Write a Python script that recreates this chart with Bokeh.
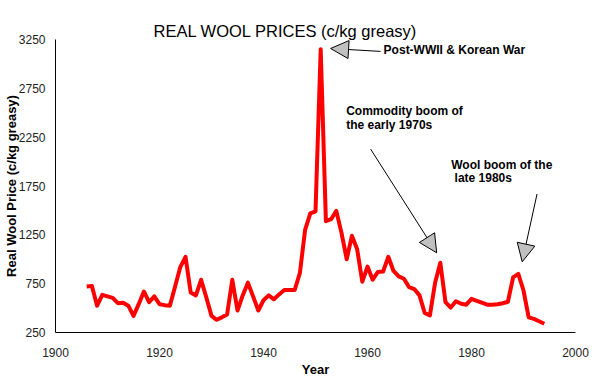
from bokeh.plotting import figure
from bokeh.models import Arrow, NormalHead, Label, FixedTicker, Title
from bokeh.embed import file_html
from bokeh.resources import INLINE

years = list(range(1906, 1995))
prices = [720, 725, 525, 635, 620, 605, 550, 555, 525, 420,
          540, 670, 560, 620, 540, 530, 525, 720, 920, 1025,
          660, 630, 790, 610, 420, 380, 405, 435, 790, 475,
          630, 760, 620, 475, 580, 630, 590, 640, 685, 685,
          685, 860, 1300, 1470, 1490, 3150, 1390, 1410, 1495, 1270,
          1000, 1240, 1105, 770, 925, 790, 870, 875, 1025, 880,
          825, 800, 715, 695, 630, 450, 425, 760, 965, 560,
          505, 570, 545, 535, 595, 575, 555, 535, 535, 540,
          550, 565, 815, 850, 680, 405, 390, 365, 340]
x_ticks = [1900, 1920, 1940, 1960, 1980, 2000]
y_ticks = [250, 750, 1250, 1750, 2250, 2750, 3250]
title_text = "REAL WOOL PRICES (c/kg greasy)"

FONT = "Liberation Sans"

p = figure(width=592, height=379, x_range=(1900, 2000), y_range=(250, 3250),
           title=None, output_backend="svg", toolbar_location=None,
           min_border_left=55, min_border_right=17, min_border_top=39, min_border_bottom=47)
p.outline_line_color = None
p.grid.visible = False
p.background_fill_color = "white"
p.border_fill_color = "white"

# real title, then a blank white spacer that sits between it and the frame
p.add_layout(Title(text=title_text, align="left", offset=98, text_font=FONT,
                   text_font_size="16.5px", text_font_style="normal", text_color="black",
                   standoff=0, vertical_align="bottom"), "above")
p.add_layout(Title(text="\u00a0", text_font=FONT, text_font_size="8px",
                   text_color="white", standoff=5), "above")

for ax in (p.xaxis[0], p.yaxis[0]):
    ax.major_tick_out = 0
    ax.major_tick_in = 0
    ax.minor_tick_out = 0
    ax.minor_tick_in = 0
    ax.axis_line_color = "black"
    ax.axis_line_width = 1
    ax.major_label_text_font = FONT
    ax.major_label_text_font_size = "12px"
    ax.major_label_text_color = "#222222"
    ax.axis_label_text_font = FONT
    ax.axis_label_text_font_size = "13px"
    ax.axis_label_text_font_style = "bold"
    ax.axis_label_text_color = "black"

p.xaxis.ticker = FixedTicker(ticks=x_ticks)
p.yaxis.ticker = FixedTicker(ticks=y_ticks)
p.xaxis.axis_label = "Year"
p.yaxis.axis_label = "Real Wool Price (c/kg greasy)"
p.xaxis.major_label_standoff = 15
p.xaxis.axis_label_standoff = 2
p.yaxis.major_label_standoff = 10
p.yaxis.axis_label_standoff = -3

p.line(years, prices, line_color="#ff0000", line_width=4, line_join="round")


def arrow(x0, y0, x1, y1):
    p.add_layout(Arrow(end=NormalHead(size=18, fill_color="#c0c0c0", line_color="black", line_width=1),
                       x_start=x0, y_start=y0, x_end=x1, y_end=y1,
                       line_color="black", line_width=1))


arrow(1962.5, 3128, 1952.9, 3158)
arrow(1960.6, 2128, 1973.3, 1066)
arrow(1992.6, 1668, 1989.75, 974)


def label(x, y, text, baseline="top"):
    p.add_layout(Label(x=x, y=y, text=text, text_font=FONT, text_font_size="12px",
                       text_font_style="bold", text_color="black", text_baseline=baseline,
                       text_line_height=0.95))


label(1963.1, 3138, "Post-WWII & Korean War", "middle")
label(1955.9, 2587, "Commodity boom of\nthe early 1970s")
label(1976.1, 2036, "Wool boom of the\n\u00a0late 1980s")

open("out.html", "w").write(file_html(p, INLINE))
